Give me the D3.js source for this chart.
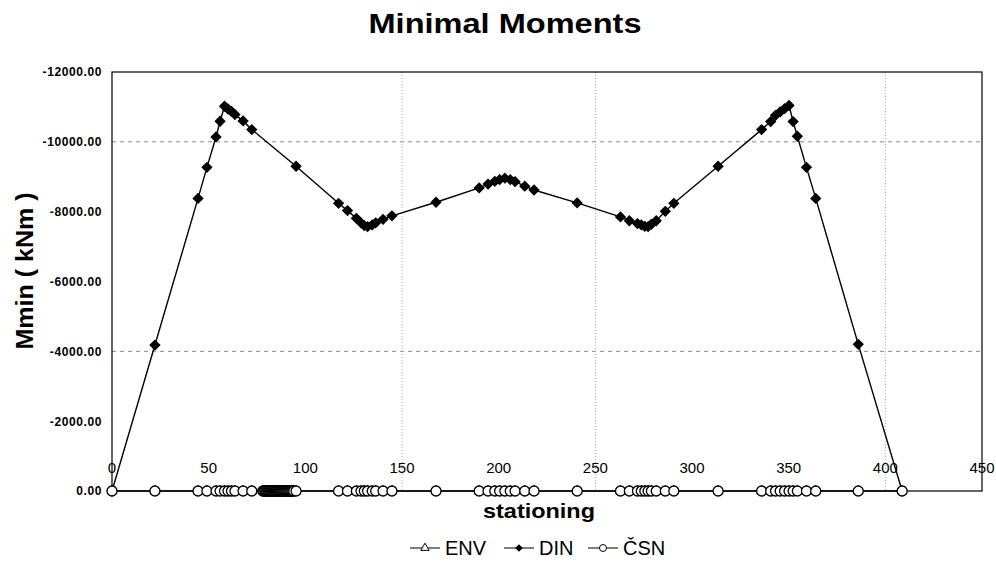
<!DOCTYPE html>
<html>
<head>
<meta charset="utf-8">
<script src="https://cdn.jsdelivr.net/npm/d3@7"></script>
<style>
  body { margin: 0; background: #fff; }
  svg { display: block; font-family: Arial, "Liberation Sans", sans-serif; }
</style>
</head>
<body>
<div id="chart"></div>
<script>
// Minimal moments along the bridge (DIN values, ENV / CSN lie on zero)

const dinStations = [0, 22.2, 44.5, 49.1, 53.8, 55.9, 58.2, 60.0, 61.8, 63.6, 67.8, 72.3, 95.2,
  117.2, 121.8, 126.4, 128.8, 130.5, 132.2, 134.6, 136.4, 140.2, 144.8, 167.6,
  189.9, 194.5, 198.0, 200.5, 203.2, 206.0, 208.5, 213.5, 218.3, 240.6,
  263.0, 267.6, 271.8, 273.8, 275.6, 277.3, 279.0, 281.5, 286.2, 290.6, 313.5,
  336.0, 340.7, 343.2, 345.6, 347.9, 350.2, 352.3, 354.5, 359.2, 364.0, 386.0, 408.7]

const dinValues = [0, -4180, -8380, -9270, -10140, -10590, -11020, -10940, -10870, -10780, -10600, -10350, -9300,
  -8240, -8030, -7810, -7680, -7600, -7570, -7620, -7680, -7780, -7880, -8270,
  -8680, -8790, -8870, -8920, -8960, -8920, -8860, -8730, -8620, -8250,
  -7850, -7740, -7660, -7620, -7580, -7570, -7640, -7740, -8010, -8240, -9300,
  -10350, -10580, -10760, -10860, -10950, -11040, -10580, -10160, -9270, -8380, -4200, 0]

// dense output points between the first support sections
const denseStations = [78, 78.5, 79, 79.5, 80, 80.5, 81, 81.5, 82, 82.5, 83, 83.5, 84, 84.5,
  85, 85.5, 86, 86.5, 87, 87.5, 88, 88.5, 89, 89.5, 90, 90.5, 91, 91.5, 92, 92.5, 93, 93.5, 94]

const csnStations = dinStations.concat(denseStations).sort((a, b) => a - b)
const csnValues = csnStations.map(() => 0)
const envStations = csnStations
const envValues = csnValues

const xTicks = [0, 50, 100, 150, 200, 250, 300, 350, 400, 450]
const yTicks = [0, -2000, -4000, -6000, -8000, -10000, -12000]
const yGrid = [-10000, -4000]
const xGrid = [150, 250, 400]

const W = 996, H = 572
const margin = { top: 72, right: 14, bottom: 81, left: 112 }

const svg = d3.select('#chart').append('svg')
  .attr('width', W)
  .attr('height', H)

const x = d3.scaleLinear().domain([0, 450]).range([margin.left, W - margin.right])
const y = d3.scaleLinear().domain([0, -12000]).range([H - margin.bottom, margin.top])

// grid
svg.append('g').selectAll('line').data(yGrid).join('line')
  .attr('x1', x(0)).attr('x2', x(450))
  .attr('y1', d => y(d)).attr('y2', d => y(d))
  .attr('stroke', '#888').attr('stroke-width', 1)
  .attr('stroke-dasharray', '4,4')

svg.append('g').selectAll('line').data(xGrid).join('line')
  .attr('x1', d => x(d)).attr('x2', d => x(d))
  .attr('y1', y(-12000)).attr('y2', y(0))
  .attr('stroke', '#aaa').attr('stroke-width', 1)
  .attr('stroke-dasharray', '1,2')

// frame
svg.append('rect')
  .attr('x', x(0)).attr('y', y(-12000))
  .attr('width', x(450) - x(0)).attr('height', y(0) - y(-12000))
  .attr('fill', 'none').attr('stroke', '#000').attr('stroke-width', 1.2)

// y axis (plain hyphen minus, two decimals)
const yAxis = svg.append('g')
  .attr('transform', `translate(${x(0)},0)`)
  .call(d3.axisLeft(y).tickValues(yTicks).tickSize(0).tickPadding(10).tickFormat(d => d.toFixed(2)))
yAxis.select('.domain').remove()
yAxis.selectAll('text')
  .attr('font-size', 12).attr('font-weight', 'bold')
  .attr('letter-spacing', 0.6)
  .attr('font-family', 'Arial, "Liberation Sans", sans-serif')
  .attr('fill', '#000')

// x tick labels sit inside the plot, just above the zero line
svg.append('g').selectAll('text').data(xTicks).join('text')
  .attr('x', d => x(d))
  .attr('y', y(0) - 18)
  .attr('text-anchor', 'middle')
  .attr('font-size', 15)
  .attr('fill', '#000')
  .text(d => d)

const line = d3.line().x(d => x(d[0])).y(d => y(d[1]))
const zip = (a, b) => a.map((s, i) => [s, b[i]])

const env = zip(envStations, envValues)
const din = zip(dinStations, dinValues)
const csn = zip(csnStations, csnValues)

const diamond = d3.symbol().type(d3.symbolSquare).size(64)
const triangle = d3.symbol().type(d3.symbolTriangle).size(40)

// ENV
svg.append('path').datum(env).attr('d', line)
  .attr('fill', 'none').attr('stroke', '#000').attr('stroke-width', 1.2)
svg.append('g').selectAll('path').data(env).join('path')
  .attr('d', triangle)
  .attr('transform', d => `translate(${x(d[0])},${y(d[1])})`)
  .attr('fill', '#fff').attr('stroke', '#000').attr('stroke-width', 1)

// DIN
svg.append('path').datum(din).attr('d', line)
  .attr('fill', 'none').attr('stroke', '#000').attr('stroke-width', 1.4)
svg.append('g').selectAll('path').data(din).join('path')
  .attr('d', diamond)
  .attr('transform', d => `translate(${x(d[0])},${y(d[1])}) rotate(45)`)
  .attr('fill', '#000')

// CSN
svg.append('path').datum(csn).attr('d', line)
  .attr('fill', 'none').attr('stroke', '#000').attr('stroke-width', 1.2)
svg.append('g').selectAll('circle').data(csn).join('circle')
  .attr('cx', d => x(d[0])).attr('cy', d => y(d[1]))
  .attr('r', 5)
  .attr('fill', '#fff').attr('stroke', '#000').attr('stroke-width', 1.3)

// titles
svg.append('text')
  .attr('x', 505).attr('y', 33)
  .attr('text-anchor', 'middle')
  .attr('font-size', 28).attr('font-weight', 'bold')
  .attr('textLength', 273).attr('lengthAdjust', 'spacingAndGlyphs')
  .text('Minimal Moments')

svg.append('text')
  .attr('transform', 'translate(33,271) rotate(-90)')
  .attr('text-anchor', 'middle')
  .attr('font-size', 24).attr('font-weight', 'bold')
  .attr('textLength', 157).attr('lengthAdjust', 'spacingAndGlyphs')
  .text('Mmin ( kNm )')

svg.append('text')
  .attr('x', 539).attr('y', 518)
  .attr('text-anchor', 'middle')
  .attr('font-size', 21).attr('font-weight', 'bold')
  .attr('textLength', 112).attr('lengthAdjust', 'spacingAndGlyphs')
  .text('stationing')

// legend
const legendItems = [
  { name: 'ENV', sym: 'tri', x: 410 },
  { name: 'DIN', sym: 'dia', x: 504 },
  { name: 'ČSN', sym: 'cir', x: 588 }
]
const ly = 548
const lg = svg.append('g')
legendItems.forEach(it => {
  lg.append('line')
    .attr('x1', it.x).attr('x2', it.x + 30)
    .attr('y1', ly).attr('y2', ly)
    .attr('stroke', '#000').attr('stroke-width', 1)
  if (it.sym === 'tri') {
    lg.append('path').attr('d', d3.symbol().type(d3.symbolTriangle).size(30))
      .attr('transform', `translate(${it.x + 15},${ly})`)
      .attr('fill', '#fff').attr('stroke', '#000')
  } else if (it.sym === 'dia') {
    lg.append('path').attr('d', d3.symbol().type(d3.symbolSquare).size(28))
      .attr('transform', `translate(${it.x + 15},${ly}) rotate(45)`)
      .attr('fill', '#000')
  } else {
    lg.append('circle').attr('cx', it.x + 15).attr('cy', ly).attr('r', 3.5)
      .attr('fill', '#fff').attr('stroke', '#000')
  }
  lg.append('text')
    .attr('x', it.x + 35).attr('y', ly + 7)
    .attr('font-size', 20)
    .attr('fill', '#000')
    .text(it.name)
})
</script>
</body>
</html>
